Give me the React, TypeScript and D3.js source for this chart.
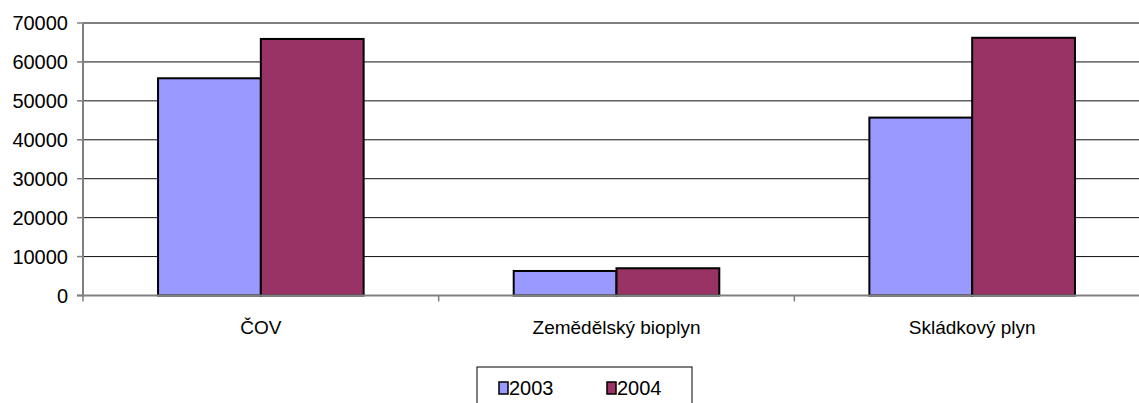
import React from 'react';
import * as d3 from 'd3';

const categories = ['ČOV', 'Zemědělský bioplyn', 'Skládkový plyn'];
const seriesNames = ['2003', '2004'];
const values2003 = [55800, 6300, 45700];
const values2004 = [65900, 7000, 66200];
const seriesColors = ['#9999FF', '#993366'];
const yTicks = [0, 10000, 20000, 30000, 40000, 50000, 60000, 70000];

const App: React.FC = () => {
  const width = 1139;
  const height = 403;
  const left = 83;
  const right = 1150; // plot runs past the picture's edge
  const top = 23;
  const bottom = 295.5;

  const y = d3.scaleLinear().domain([0, 70000]).range([bottom, top]);
  const x0 = d3.scaleBand<string>().domain(categories).range([left, right]).padding(0);
  const x1 = d3.scaleBand<string>()
    .domain(seriesNames)
    .range([0, x0.bandwidth()])
    .paddingInner(0)
    .paddingOuter(0.73);

  const series = [values2003, values2004];
  const font = 'Liberation Sans, Arial, sans-serif';

  return (
    <svg
      width={width}
      height={height}
      style={{ position: 'absolute', left: 0, top: 0, background: '#fff' }}
      fontFamily={font}
    >
      {/* gridlines */}
      {yTicks.slice(1, -1).map(t => (
        <line key={t} x1={left} x2={right} y1={y(t)} y2={y(t)} stroke="#111" strokeWidth={1} />
      ))}
      <line x1={left} x2={right} y1={y(70000)} y2={y(70000)} stroke="#808080" strokeWidth={2} />

      {/* bars */}
      {categories.map((c, i) => (
        <g key={c} transform={`translate(${x0(c)},0)`}>
          {seriesNames.map((s, j) => (
            <rect
              key={s}
              x={x1(s)}
              y={y(series[j][i])}
              width={x1.bandwidth()}
              height={y(0) - y(series[j][i])}
              fill={seriesColors[j]}
              stroke="#000"
              strokeWidth={2}
            />
          ))}
        </g>
      ))}

      {/* axes */}
      <line x1={left} x2={left} y1={top} y2={bottom + 1} stroke="#808080" strokeWidth={2} />
      <line x1={left - 6} x2={right} y1={bottom} y2={bottom} stroke="#808080" strokeWidth={2} />
      {yTicks.map(t => (
        <g key={t}>
          <line x1={left - 6} x2={left} y1={y(t)} y2={y(t)} stroke="#808080" strokeWidth={1.5} />
          <text x={68} y={y(t)} dy="0.36em" textAnchor="end" fontSize={20} fill="#000">
            {t}
          </text>
        </g>
      ))}
      {categories.map(c => (
        <g key={c}>
          <line x1={x0(c)} x2={x0(c)} y1={bottom} y2={bottom + 6} stroke="#808080" strokeWidth={1.5} />
          <text x={(x0(c) ?? 0) + x0.bandwidth() / 2} y={334} textAnchor="middle" fontSize={19} fill="#000">
            {c}
          </text>
        </g>
      ))}
      <line x1={right} x2={right} y1={bottom} y2={bottom + 6} stroke="#808080" strokeWidth={1.5} />

      {/* legend */}
      <rect x={477} y={367} width={215} height={50} fill="#fff" stroke="#000" strokeWidth={1} />
      {seriesNames.map((s, j) => (
        <g key={s} transform={`translate(${499 + j * 108},382)`}>
          <rect x={0} y={0} width={9} height={12} fill={seriesColors[j]} stroke="#000" strokeWidth={1.5} />
          <text x={10} y={13} fontSize={20} fill="#000">{s}</text>
        </g>
      ))}
    </svg>
  );
};

export default App;
